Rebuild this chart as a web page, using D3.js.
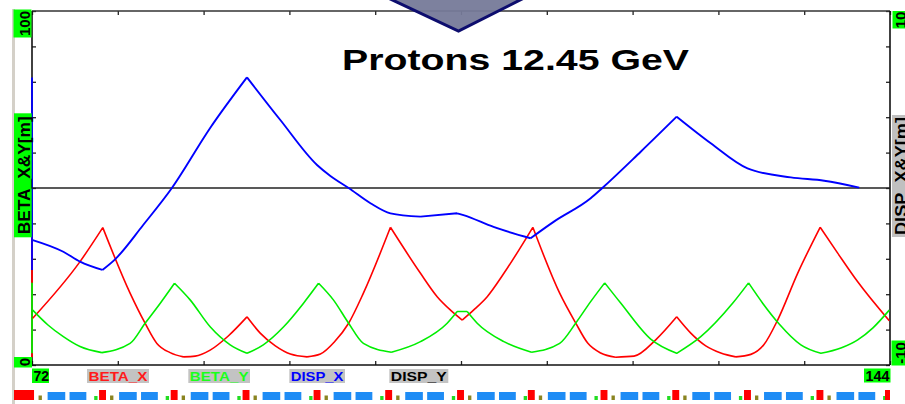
<!DOCTYPE html>
<html><head><meta charset="utf-8">
<script src="https://cdn.jsdelivr.net/npm/d3@7"></script>
<style>html,body{margin:0;padding:0;background:#fff;overflow:hidden}svg{display:block}</style>
</head><body>
<svg id="chart" width="905" height="404"></svg>
<script>
// ---------------- DATA ----------------
const TITLE = "Protons 12.45 GeV";
const S_DOMAIN = [72, 144];
const BETA_DOMAIN = [0, 100];
const DISP_DOMAIN = [-10, 10];
const X_END_LABELS = ["72", "144"];
const BETA_END_LABELS = ["0", "100"];
const DISP_END_LABELS = ["-10", "10"];
const LEFT_TITLE = "BETA_X&Y[m]";
const RIGHT_TITLE = "DISP_X&Y[m]";
const LEGEND_NAMES = ["BETA_X", "BETA_Y", "DISP_X", "DISP_Y"];

// [s, value]
const BETA_X = [[72.06,13.2],[76.03,29.2],[77.94,38.8],[80.23,20.3],[81.49,11.8],[82.48,6.1],[83.59,3.5],[84.71,2.3],[85.69,2.5],[86.95,4.2],[88.47,8.2],[90.04,13.6],[91.15,9.0],[92.42,5.4],[93.68,3.1],[95.08,2.3],[96.20,3.1],[97.37,6.5],[98.57,11.8],[99.81,20.3],[102.08,38.9],[104.60,25.9],[106.00,19.3],[107.12,15.5],[108.10,12.7],[109.05,15.5],[110.20,19.3],[111.60,25.9],[114.03,38.9],[116.28,20.3],[117.62,11.9],[118.63,6.2],[119.72,3.4],[120.98,2.2],[122.52,2.5],[124.34,7.1],[126.10,13.6],[127.28,9.0],[128.54,5.4],[129.80,3.4],[131.06,2.3],[132.32,3.0],[133.41,5.7],[134.57,12.7],[136.25,25.9],[138.14,38.9],[139.61,31.6],[141.29,23.5],[143.94,12.5]];
const BETA_Y = [[72.06,15.5],[73.34,11.3],[74.63,8.0],[76.03,5.2],[77.86,3.5],[80.23,6.1],[81.49,11.8],[82.75,17.4],[83.96,23.1],[85.27,18.4],[86.95,10.8],[88.63,5.7],[90.04,3.3],[91.41,5.7],[93.12,10.8],[94.77,17.4],[96.05,23.1],[97.29,18.4],[98.57,11.8],[99.81,6.1],[102.16,3.6],[104.60,6.6],[106.84,11.8],[107.68,15.1],[108.52,15.1],[109.36,11.8],[111.60,6.6],[113.92,3.6],[116.28,6.1],[117.62,11.8],[118.88,17.9],[120.06,23.2],[121.40,17.5],[123.92,7.3],[126.10,3.3],[128.12,8.0],[130.81,17.5],[132.13,23.2],[133.33,17.4],[134.70,11.6],[136.52,5.7],[138.20,3.3],[139.88,4.8],[141.29,7.1],[142.57,10.5],[143.94,15.5]];
const DISP_X = [[72.06,-2.94],[74.63,-3.60],[76.03,-4.16],[77.91,-4.63],[78.97,-4.03],[81.33,-2.09],[83.74,0.0],[86.95,3.39],[90.04,6.25],[92.84,3.84],[95.92,1.30],[97.04,0.68],[98.57,0.0],[100.40,-0.86],[102.08,-1.43],[104.60,-1.62],[107.68,-1.43],[108.21,-1.53],[110.73,-2.20],[113.84,-2.84],[115.80,-1.90],[118.88,-0.58],[119.86,0.0],[123.08,2.05],[126.10,4.03],[128.96,2.53],[132.04,1.11],[135.68,0.60],[138.48,0.41],[141.42,0.02]];
const DISP_Y = [[72,0],[144,0]];

// lattice: quadrupole centres along s, and the element layout of one cell relative to the quad
const QUAD_S = [71.92, 77.92, 83.93, 89.96, 95.92, 101.93, 107.96, 113.90, 120.00, 126.02, 132.04, 138.12, 143.87];
const CELL_ELEMENTS = [
  {type: "Q", from: -0.29, to: 0.29},
  {type: "S", from: 0.63, to: 0.91},
  {type: "B", from: 1.39, to: 2.87},
  {type: "B", from: 3.23, to: 4.64},
  {type: "C", from: 5.30, to: 5.58}
];
const START_ELEMENT = [70.49, 72.17];

// ---------------- DRAWING ----------------
const FONT = "'Liberation Sans', Arial, Helvetica, sans-serif";
const svg = d3.select("#chart");
const L = 32, R = 890, T = 11, B = 365;

const x = d3.scaleLinear().domain(S_DOMAIN).range([L, R]);
const yL = d3.scaleLinear().domain(BETA_DOMAIN).range([B, T]);
const yR = d3.scaleLinear().domain(DISP_DOMAIN).range([B, T]);

svg.append("rect").attr("width", 905).attr("height", 404).attr("fill", "#fff");
svg.append("rect").attr("x", 12).attr("y", 9).attr("width", 3).attr("height", 395).attr("fill", "#d4d0c8");

// ticks (inside)
const xTicks = d3.range(S_DOMAIN[0], S_DOMAIN[1] + 0.001, (S_DOMAIN[1] - S_DOMAIN[0]) / 10);
const lTicks = d3.range(BETA_DOMAIN[0], BETA_DOMAIN[1] + 0.001, 10);
const rTicks = d3.range(DISP_DOMAIN[0], DISP_DOMAIN[1] + 0.001, 2);
function styleAxis(g){ g.select(".domain").remove(); g.selectAll("line").attr("stroke", "#222").attr("stroke-width", 1.3); g.selectAll("text").remove(); }
svg.append("g").attr("transform", `translate(0,${T})`).call(d3.axisTop(x).tickValues(xTicks).tickSize(-4)).call(styleAxis);
svg.append("g").attr("transform", `translate(0,${B})`).call(d3.axisBottom(x).tickValues(xTicks).tickSize(-4)).call(styleAxis);
svg.append("g").attr("transform", `translate(${L},0)`).call(d3.axisLeft(yL).tickValues(lTicks).tickSize(-4)).call(styleAxis);
svg.append("g").attr("transform", `translate(${R},0)`).call(d3.axisRight(yR).tickValues(rTicks).tickSize(-4)).call(styleAxis);

// frame lines
svg.append("line").attr("x1", L).attr("x2", R).attr("y1", T).attr("y2", T).attr("stroke", "#333").attr("stroke-width", 1.6);
svg.append("line").attr("x1", L).attr("x2", R).attr("y1", B).attr("y2", B).attr("stroke", "#111").attr("stroke-width", 1.6);
svg.append("line").attr("x1", R).attr("x2", R).attr("y1", T).attr("y2", B).attr("stroke", "#111").attr("stroke-width", 1.6);
svg.append("line").attr("x1", L).attr("x2", L).attr("y1", T).attr("y2", B).attr("stroke", "#111").attr("stroke-width", 1.6);

const series = [
  {name: "DISP_Y", data: DISP_Y, y: yR, color: "#222", w: 1.6},
  {name: "BETA_X", data: BETA_X, y: yL, color: "#ff0000", w: 1.6},
  {name: "BETA_Y", data: BETA_Y, y: yL, color: "#00ee00", w: 1.6},
  {name: "DISP_X", data: DISP_X, y: yR, color: "#0000ff", w: 1.9}
];

// left edge coloured by the range of each curve
series.filter(s => s.name !== "DISP_Y").forEach(s => {
  const ext = d3.extent(s.data, d => d[1]);
  svg.append("line").attr("x1", L).attr("x2", L)
    .attr("y1", s.y(ext[0])).attr("y2", s.y(ext[1]))
    .attr("stroke", s.color).attr("stroke-width", 1.8);
});

// split a series into monotone pieces at its turning points (cusps at the quadrupoles)
function monotonePieces(data) {
  const pieces = [];
  let cur = [data[0]];
  for (let i = 1; i < data.length; i++) {
    cur.push(data[i]);
    if (i < data.length - 1) {
      const a = data[i][1] - data[i - 1][1], b = data[i + 1][1] - data[i][1];
      if (a * b <= 0) { pieces.push(cur); cur = [data[i]]; }
    }
  }
  pieces.push(cur);
  return pieces;
}

series.forEach(s => {
  const line = d3.line().x(d => x(d[0])).y(d => s.y(d[1])).curve(d3.curveMonotoneX);
  const d = monotonePieces(s.data).map(p => line(p)).join("");
  svg.append("path").attr("d", d)
    .attr("fill", "none").attr("stroke", s.color).attr("stroke-width", s.w)
    .attr("stroke-linejoin", "round");
});

// title
svg.append("text").attr("x", 342).attr("y", 70).text(TITLE)
  .attr("font-family", FONT).attr("font-weight", "bold").attr("font-size", 30)
  .attr("textLength", 347).attr("lengthAdjust", "spacingAndGlyphs").attr("fill", "#000");

// arrow overlay at the top
svg.append("polygon")
  .attr("points", [[386, -3], [458.5, 31], [526, -3]].map(p => p.join(",")).join(" "))
  .attr("fill", "#767a99").attr("fill-opacity", 0.95)
  .attr("stroke", "#0d0d6e").attr("stroke-width", 3).attr("stroke-linejoin", "miter");

// labelled boxes
function boxLabel(bx, by, bw, bh, bg, txt, tx, ty, rot, size, color, len) {
  svg.append("rect").attr("x", bx).attr("y", by).attr("width", bw).attr("height", bh).attr("fill", bg);
  const t = svg.append("text").text(txt)
    .attr("transform", `translate(${tx},${ty}) rotate(${rot})`)
    .attr("font-family", FONT).attr("font-weight", "bold").attr("font-size", size)
    .attr("fill", color).attr("text-anchor", rot ? "middle" : "start");
  if (len) t.attr("textLength", len).attr("lengthAdjust", "spacingAndGlyphs");
}
const LIME = "#00ff00";
boxLabel(13.5, yL(100) - 1.5, 18, 28, LIME, BETA_END_LABELS[1], 29.5, yL(100) + 12.5, -90, 15, "#000");
boxLabel(14, yL(0) - 8, 18, 10.5, LIME, BETA_END_LABELS[0], 29.5, yL(0) - 2.8, -90, 15, "#000");
boxLabel(892.5, yR(10), 13, 17.5, LIME, DISP_END_LABELS[1], 906, yR(10) + 9, -90, 15, "#000");
boxLabel(891.5, yR(-10) - 24.5, 14, 25, LIME, DISP_END_LABELS[0], 906, yR(-10) - 12, -90, 15, "#000");
boxLabel(x(72), 368.5, 17, 14.5, LIME, X_END_LABELS[0], x(72) + 1.5, 381, 0, 14, "#000");
boxLabel(864, 368.5, 26.5, 14, LIME, X_END_LABELS[1], 865.5, 381, 0, 14, "#000", 24);
boxLabel(14, 113.3, 17.7, 124, LIME, LEFT_TITLE, 29.5, 175.3, -90, 16, "#000", 118);
boxLabel(892, 115, 13, 122, "#c0c0c0", RIGHT_TITLE, 906.5, 176, -90, 16, "#000", 118);

// legend
const legendBoxes = [[87, 62], [188.3, 61.7], [289.3, 55.7], [389.3, 59]];
const legendColors = ["#ff1a1a", "#1aff1a", "#0000ff", "#000000"];
LEGEND_NAMES.forEach((n, i) => {
  const [bx, bw] = legendBoxes[i];
  boxLabel(bx, 369, bw, 14, "#c3c3c3", n, bx + 1.5, 381, 0, 13, legendColors[i], bw - 3);
});

// lattice strip
const latticeColors = {Q: "#ff0000", S: "#8a8420", B: "#1e8cf5", C: "#22dd22", W: "#ff0000"};
const latticeTop = {Q: 390, S: 395.5, B: 392, C: 396, W: 390};
const elems = [{type: "W", s0: START_ELEMENT[0], s1: START_ELEMENT[1]}];
QUAD_S.forEach((q, i) => {
  CELL_ELEMENTS.forEach(e => {
    if (i === 0 && e.type === "Q") return;
    const s0 = q + e.from, s1 = Math.min(q + e.to, S_DOMAIN[1]);
    if (s0 >= S_DOMAIN[1]) return;
    elems.push({type: e.type, s0, s1});
  });
});
svg.append("g").selectAll("rect").data(elems).join("rect")
  .attr("x", d => x(d.s0)).attr("width", d => x(d.s1) - x(d.s0))
  .attr("y", d => latticeTop[d.type]).attr("height", d => 400 - latticeTop[d.type])
  .attr("fill", d => latticeColors[d.type]);
</script>
</body></html>
